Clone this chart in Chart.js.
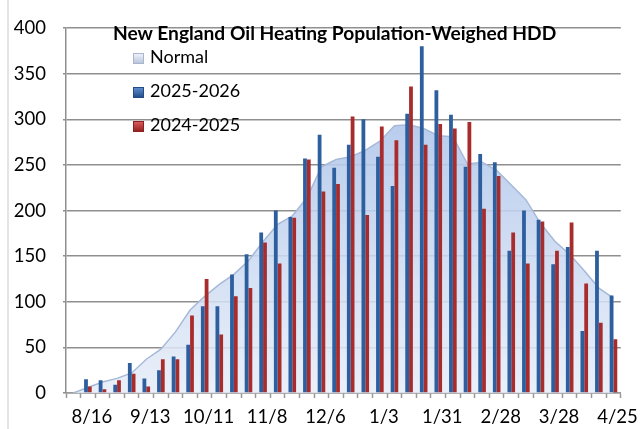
<!DOCTYPE html>
<html>
<head>
<meta charset="utf-8">
<script src="https://cdn.jsdelivr.net/npm/chart.js@4.4.1/dist/chart.umd.min.js"></script>
<style>
  html, body { margin: 0; padding: 0; background: #fff; }
  #wrap { position: relative; width: 642px; height: 429px; overflow: hidden; background: #fff; }
  #c { position: absolute; left: 0; top: 0; }
  .pageline { position: absolute; left: 7px; top: 0; width: 2px; height: 429px; background: #e4e4e4; }
  #chartTitle { position: absolute; left: 113px; top: 22px; font-family: Lato, sans-serif; font-weight: bold; font-size: 19.2px; line-height: 22px; color: #000; white-space: nowrap; }
  .leg { position: absolute; left: 133px; height: 22px; line-height: 22px; font-family: Lato, sans-serif; font-size: 18px; color: #000; white-space: nowrap; }
  .sw { display: inline-block; width: 11px; height: 11px; margin-right: 6px; vertical-align: -1px; box-sizing: border-box; }
</style>
</head>
<body>
<div id="wrap">
  <div class="pageline"></div>
  <canvas id="c" width="642" height="429"></canvas>
  <div id="chartTitle">New England Oil Heating Population-Weighed HDD</div>
  <div class="leg" style="top:45px"><span class="sw" style="background:linear-gradient(#eef2f9,#b9c6dc);border:1px solid #aab6cc"></span>Normal</div>
  <div class="leg" style="top:79px"><span class="sw" style="background:linear-gradient(#5d8ccc,#244f8c);border:1px solid #234c86"></span>2025-2026</div>
  <div class="leg" style="top:113px"><span class="sw" style="background:linear-gradient(#d65a5a,#962222);border:1px solid #8e2020"></span>2024-2025</div>
</div>
<script>
// Week-ending dates (category axis)
const weeks = ["8/9","8/16","8/23","8/30","9/6","9/13","9/20","9/27","10/4","10/11","10/18","10/25","11/1","11/8","11/15","11/22","11/29","12/6","12/13","12/20","12/27","1/3","1/10","1/17","1/24","1/31","2/7","2/14","2/21","2/28","3/7","3/14","3/21","3/28","4/4","4/11","4/18","4/25"];
// Normal HDD (area)
const normalHDD = [0,6,12,16,22,37,48,67,91,106,119,130,145,166,185,194,214,248,256,259,266,276,293,294,290,282,281,251,253,244,228,212,186,166,152,134,115,104];
// 2025-2026 HDD
const hdd2526 = [null,15,14,9,33,16,25,40,53,95,95,130,152,176,200,193,257,283,247,272,300,259,227,306,380,332,305,248,262,253,156,200,190,141,160,68,156,107];
// 2024-2025 HDD
const hdd2425 = [null,7,4,14,21,7,37,37,85,125,64,106,115,165,142,192,256,221,229,303,195,292,277,336,272,295,290,297,202,238,176,142,188,156,187,120,77,59];
// Axis ticks
const yMin = 0, yMax = 400, yStep = 50;
const labelEvery = 4, labelStart = 1;

const ctx = document.getElementById('c').getContext('2d');

function areaFill(context) {
  const chart = context.chart;
  const a = chart.chartArea;
  if (!a) return 'rgba(190,206,234,0.8)';
  const g = chart.ctx.createLinearGradient(0, a.top, 0, a.bottom);
  g.addColorStop(0, 'rgba(160,187,230,0.95)');
  g.addColorStop(0.5, 'rgba(194,211,239,0.88)');
  g.addColorStop(1, 'rgba(230,237,248,0.85)');
  return g;
}

new Chart(ctx, {
  type: 'bar',
  data: {
    labels: weeks,
    datasets: [
      {
        type: 'line',
        label: 'Normal',
        data: normalHDD,
        fill: 'origin',
        backgroundColor: areaFill,
        borderColor: '#a6b9d8',
        borderWidth: 1.5,
        pointRadius: 0,
        tension: 0,
        order: 3
      },
      {
        label: '2025-2026',
        data: hdd2526,
        backgroundColor: '#2d5e9e',
        borderWidth: 0,
        order: 1,
        categoryPercentage: 0.52,
        barPercentage: 1.0
      },
      {
        label: '2024-2025',
        data: hdd2425,
        backgroundColor: '#a92c2c',
        borderWidth: 0,
        order: 2,
        categoryPercentage: 0.52,
        barPercentage: 1.0
      }
    ]
  },
  options: {
    responsive: false,
    animation: false,
    events: [],
    layout: { autoPadding: false, padding: { top: 20, right: 19, bottom: 0, left: 0 } },
    plugins: {
      legend: { display: false },
      title: { display: false },
      tooltip: { enabled: false }
    },
    scales: {
      x: {
        offset: true,
        grid: {
          display: true,
          offset: true,
          drawOnChartArea: false,
          drawTicks: true,
          tickLength: 5,
          tickColor: '#999999',
          tickWidth: 1.5
        },
        border: { display: true, color: '#999999', width: 1.5 },
        ticks: {
          autoSkip: false,
          maxRotation: 0,
          minRotation: 0,
          padding: 8,
          labelOffset: 4,
          color: '#000',
          font: { family: 'Lato', size: 18.5 },
          callback: function (v, i) { return (i - labelStart) % labelEvery === 0 ? this.getLabelForValue(v) : ''; }
        },
        afterFit: function (s) { s.height = 36; }
      },
      y: {
        min: yMin,
        max: yMax,
        grid: {
          color: '#8f8f8f',
          lineWidth: 1.5,
          tickLength: 3,
          tickColor: '#8f8f8f'
        },
        border: { display: true, color: '#8f8f8f', width: 1.5 },
        ticks: {
          stepSize: yStep,
          padding: 17,
          color: '#000',
          font: { family: 'Lato', size: 18.5 }
        },
        afterFit: function (s) { s.width = 66; }
      }
    }
  }
});
</script>
</body>
</html>
